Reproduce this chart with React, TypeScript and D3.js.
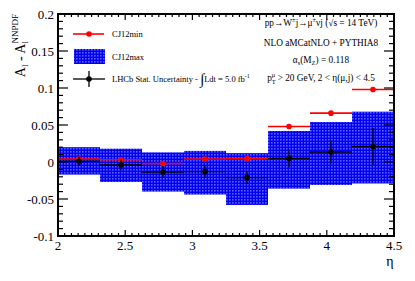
import React from 'react';
import * as d3 from 'd3';

// bin edges in eta
const binEdges = [2, 2.3125, 2.625, 2.9375, 3.25, 3.5625, 3.875, 4.1875, 4.5];

// CJ12min points
const cj12min = [0.004, 0.003, -0.002, 0.004, 0.0045, 0.048, 0.066, 0.098];

// CJ12max band (high / low)
const cj12maxHigh = [0.020, 0.018, 0.013, 0.015, 0.012, 0.042, 0.054, 0.068];
const cj12maxLow = [-0.017, -0.027, -0.040, -0.044, -0.058, -0.036, -0.031, -0.029];

// LHCb stat. uncertainty
const lhcbValue = [0.001, -0.004, -0.0135, -0.013, -0.021, 0.005, 0.0135, 0.021];
const lhcbError = [0.006, 0.007, 0.008, 0.0085, 0.009, 0.012, 0.016, 0.025];

// tick labels
const xTicks = [2, 2.5, 3, 3.5, 4, 4.5];
const yTicks = [-0.1, -0.05, 0, 0.05, 0.1, 0.15, 0.2];

const W = 415;
const H = 281;
const frame = { left: 58, right: 394, top: 14, bottom: 236 };
const FONT = '"Liberation Serif", "Times New Roman", "DejaVu Serif", serif';

const App: React.FC = () => {
  const x = d3.scaleLinear().domain([2, 4.5]).range([frame.left, frame.right]);
  const y = d3.scaleLinear().domain([-0.1, 0.2]).range([frame.bottom, frame.top]);

  const bins = d3.range(binEdges.length - 1).map(i => ({
    lo: binEdges[i],
    hi: binEdges[i + 1],
    mid: (binEdges[i] + binEdges[i + 1]) / 2,
    min: cj12min[i],
    bandHi: cj12maxHigh[i],
    bandLo: cj12maxLow[i],
    val: lhcbValue[i],
    err: lhcbError[i],
  }));

  const xMinor = x.ticks(50);
  const yMinor = y.ticks(30);
  const fmt = (v: number) => (v === 0 ? '0' : String(+v.toFixed(2)));

  return (
    <div style={{ position: 'fixed', left: 0, top: 0 }}>
      <svg width={W} height={H} style={{ display: 'block', background: '#fff' }}>
        <defs>
          <pattern id="blueHatch" width={3} height={3} patternUnits="userSpaceOnUse">
            <rect width={3} height={3} fill="#0000f5" />
            <rect x={1} y={1} width={1.6} height={1.6} fill="#5c5cff" />
          </pattern>
        </defs>

        {/* CJ12max band */}
        {bins.map((b, i) => (
          <rect key={'band' + i}
            x={x(b.lo)} width={x(b.hi) - x(b.lo)}
            y={y(b.bandHi)} height={y(b.bandLo) - y(b.bandHi)}
            fill="url(#blueHatch)" />
        ))}

        {/* CJ12min */}
        {bins.map((b, i) => (
          <g key={'min' + i}>
            <line x1={x(b.lo)} x2={x(b.hi)} y1={y(b.min)} y2={y(b.min)} stroke="#ff0000" strokeWidth={1.6} />
            <circle cx={x(b.mid)} cy={y(b.min)} r={2.8} fill="#ff0000" />
          </g>
        ))}

        {/* LHCb */}
        {bins.map((b, i) => (
          <g key={'lhcb' + i}>
            <line x1={x(b.lo)} x2={x(b.hi)} y1={y(b.val)} y2={y(b.val)} stroke="#000" strokeWidth={1.3} />
            <line x1={x(b.mid)} x2={x(b.mid)} y1={y(b.val - b.err)} y2={y(b.val + b.err)} stroke="#000" strokeWidth={1.3} />
            <circle cx={x(b.mid)} cy={y(b.val)} r={2.8} fill="#000" />
          </g>
        ))}

        {/* ticks */}
        <g stroke="#000" strokeWidth={1.2}>
          {xMinor.map((t, i) => {
            const major = xTicks.some(v => Math.abs(v - t) < 1e-6);
            const len = major ? 6 : 3;
            return (
              <g key={'xt' + i}>
                <line x1={x(t)} x2={x(t)} y1={frame.bottom} y2={frame.bottom - len} />
                <line x1={x(t)} x2={x(t)} y1={frame.top} y2={frame.top + len} />
              </g>
            );
          })}
          {yMinor.map((t, i) => {
            const major = yTicks.some(v => Math.abs(v - t) < 1e-6);
            const len = major ? 10 : 5;
            return (
              <g key={'yt' + i}>
                <line x1={frame.left} x2={frame.left + len} y1={y(t)} y2={y(t)} />
                <line x1={frame.right} x2={frame.right - len} y1={y(t)} y2={y(t)} />
              </g>
            );
          })}
        </g>

        {/* frame */}
        <rect x={frame.left} y={frame.top} width={frame.right - frame.left} height={frame.bottom - frame.top}
          fill="none" stroke="#000" strokeWidth={2} />

        {/* tick labels */}
        <g fontFamily={FONT} fontSize={13} fill="#000">
          {xTicks.map(t => (
            <text key={'xl' + t} x={x(t)} y={250} textAnchor="middle">{fmt(t)}</text>
          ))}
          {yTicks.map(t => (
            <text key={'yl' + t} x={54} y={y(t) + 4.5} textAnchor="end">{fmt(t)}</text>
          ))}
        </g>

        {/* axis titles */}
        <text x={390} y={266} fontFamily={FONT} fontSize={14} textAnchor="middle">η</text>
        <text transform="translate(25,14) rotate(-90)" fontFamily={FONT} fontSize={14} textAnchor="end">
          A<tspan fontSize={9} dy={3}>l</tspan>
          <tspan dy={-3}> - A</tspan>
          <tspan fontSize={9} dy={3}>l</tspan>
          <tspan fontSize={9} dx={-2.5} dy={-10}>NNPDF</tspan>
        </text>

        {/* legend */}
        <g fontFamily={FONT} fontSize={8.5} fill="#000">
          <line x1={73} x2={104} y1={34} y2={34} stroke="#ff0000" strokeWidth={1.6} />
          <circle cx={89} cy={34} r={2.8} fill="#ff0000" />
          <text x={112} y={37}>CJ12min</text>

          <rect x={74} y={49} width={31} height={15} fill="url(#blueHatch)" />
          <text x={112} y={60}>CJ12max</text>

          <line x1={73} x2={105} y1={79} y2={79} stroke="#000" strokeWidth={1.3} />
          <line x1={89} x2={89} y1={71} y2={87} stroke="#000" strokeWidth={1.3} />
          <circle cx={89} cy={79} r={2.8} fill="#000" />
          <text x={112} y={82}>
            LHCb Stat. Uncertainty - <tspan fontSize={15} dy={2}>∫</tspan>
            <tspan dy={-2}>Ldt =  5.0 fb</tspan>
            <tspan fontSize={6} dy={-4}>-1</tspan>
          </text>
        </g>

        {/* annotations */}
        <g fontFamily={FONT} fontSize={9.3} fill="#000" textAnchor="middle">
          <text x={321} y={26}>
            pp→W<tspan fontSize={6.5} dy={-4}>±</tspan>
            <tspan dy={4}>j→μ</tspan>
            <tspan fontSize={6.5} dy={-4}>±</tspan>
            <tspan dy={4}>νj (√s = 14 TeV)</tspan>
          </text>
          <text x={321} y={46}>NLO aMCatNLO + PYTHIA8</text>
          <text x={321} y={63}>
            α<tspan fontSize={6.5} dy={2}>s</tspan>
            <tspan dy={-2}>(M</tspan>
            <tspan fontSize={6.5} dy={2}>Z</tspan>
            <tspan dy={-2}>) = 0.118</tspan>
          </text>
          <text x={321} y={81}>
            p<tspan fontSize={6.5} dy={2.5}>T</tspan>
            <tspan fontSize={6.5} dx={-4} dy={-7}>μ</tspan>
            <tspan dy={4.5}> &gt; 20 GeV, 2 &lt; η(μ,j) &lt; 4.5</tspan>
          </text>
        </g>
      </svg>
    </div>
  );
};

export default App;
